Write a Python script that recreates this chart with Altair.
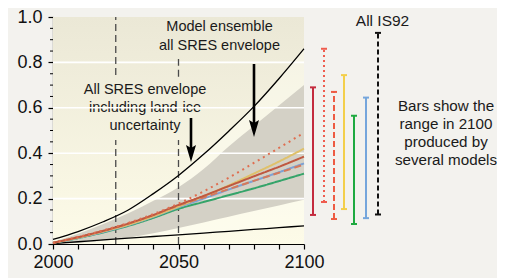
import altair as alt
import pandas as pd

# ---------------- data ----------------
years = [2000, 2010, 2020, 2030, 2040, 2050, 2060, 2070, 2080, 2090, 2100]

# outer black curves (All SRES envelope incl. land-ice uncertainty)
outer_high = [0.020, 0.055, 0.098, 0.150, 0.222, 0.302, 0.395, 0.497, 0.605, 0.728, 0.860]
outer_low = [0.002, 0.010, 0.018, 0.026, 0.033, 0.040, 0.048, 0.056, 0.064, 0.072, 0.080]

# grey model-ensemble envelope
env_low = [0.000, 0.005, 0.014, 0.028, 0.047, 0.070, 0.095, 0.120, 0.145, 0.170, 0.195]
env_high = [0.010, 0.045, 0.088, 0.135, 0.190, 0.250, 0.330, 0.430, 0.520, 0.610, 0.700]

# scenario averages
a1b = [0.005, 0.030, 0.058, 0.090, 0.128, 0.172, 0.212, 0.255, 0.298, 0.340, 0.385]
a1fi = [0.005, 0.031, 0.060, 0.093, 0.132, 0.178, 0.232, 0.292, 0.357, 0.423, 0.490]
a1t = [0.005, 0.030, 0.058, 0.090, 0.128, 0.170, 0.205, 0.242, 0.278, 0.314, 0.350]
a2 = [0.005, 0.028, 0.055, 0.085, 0.122, 0.165, 0.210, 0.258, 0.310, 0.363, 0.420]
b1 = [0.005, 0.026, 0.051, 0.080, 0.115, 0.155, 0.185, 0.215, 0.245, 0.277, 0.310]
b2 = [0.005, 0.027, 0.053, 0.083, 0.120, 0.162, 0.200, 0.240, 0.278, 0.316, 0.355]

# ranges in 2100 (bars at right)
bar_names = ["A1B", "A1FI", "A1T", "A2", "B1", "B2", "IS92"]
bar_low = [0.128, 0.185, 0.110, 0.154, 0.088, 0.114, 0.130]
bar_high = [0.690, 0.860, 0.670, 0.744, 0.565, 0.645, 0.930]

y_ticks = [0.0, 0.2, 0.4, 0.6, 0.8, 1.0]
x_ticks = list(range(2000, 2101, 10))
grid_values = [0.2, 0.4, 0.6, 0.8]
minor_y = [0.05, 0.10, 0.15, 0.25, 0.30, 0.35, 0.45, 0.50, 0.55, 0.65, 0.70, 0.75, 0.85, 0.90, 0.95]

# ---------------- styling ----------------
W, H = 251, 227
FONT = "Liberation Sans"

xscale = alt.Scale(domain=[2000, 2100], nice=False, zero=False)
yscale = alt.Scale(domain=[0, 1.0], nice=False)
xaxis = alt.Axis(values=x_ticks, labelExpr="datum.value % 50 == 0 ? datum.value : ''",
                 grid=False, tickSize=5, labelPadding=4, labelFlush=False, title=None)
yaxis = alt.Axis(values=y_ticks, format=".1f", grid=False, tickSize=5, labelPadding=6,
                 labelFlush=False, title=None)


def X(field):
    return alt.X(field, type="quantitative", scale=xscale, axis=xaxis, title=None)


def Y(field):
    return alt.Y(field, type="quantitative", scale=yscale, axis=yaxis, title=None)


one = pd.DataFrame({"a": [0]})
layers = []

# background gradient
layers.append(
    alt.Chart(one).mark_rect(
        color=alt.Gradient(gradient="linear",
                           stops=[alt.GradientStop(color="#ebe8d6", offset=0),
                                  alt.GradientStop(color="#fdfbe8", offset=1)],
                           x1=0, x2=0, y1=0, y2=1)
    ).encode(x=alt.value(0), x2=alt.value(W), y=alt.value(0), y2=alt.value(H))
)

curves = pd.DataFrame({"year": years, "hi": outer_high, "lo": outer_low,
                       "elo": env_low, "ehi": env_high})

layers.append(
    alt.Chart(curves).mark_area(interpolate="monotone", color="#fffef4", opacity=0.45)
    .encode(x=X("year"), y=Y("lo"), y2=alt.Y2("hi"))
)
layers.append(
    alt.Chart(curves).mark_area(interpolate="monotone", color="#d4d1c6")
    .encode(x=X("year"), y=Y("elo"), y2=alt.Y2("ehi"))
)

# left annotation text
left_lines = ["All SRES envelope", "including land-ice", "uncertainty"]
for i, t in enumerate(left_lines):
    layers.append(
        alt.Chart(one).mark_text(text=t, font=FONT, fontSize=14.5, color="#1a1a1a",
                                 align="center", baseline="middle")
        .encode(x=alt.value(92), y=alt.value(73 + 18 * i))
    )

# white gridlines
layers.append(
    alt.Chart(pd.DataFrame({"g": grid_values})).mark_rule(color="white", strokeWidth=1.6)
    .encode(y=Y("g"), x=alt.value(0), x2=alt.value(W))
)

# dashed vertical markers
vseg = pd.DataFrame({"year": [2025, 2025, 2050, 2050],
                     "y0": [0.745, 0.0, 0.737, 0.0],
                     "y1": [1.0, 0.458, 0.815, 0.458]})
layers.append(
    alt.Chart(vseg).mark_rule(color="#4a4a4a", strokeWidth=1.3, strokeDash=[7, 4])
    .encode(x=X("year"), y=Y("y0"), y2=alt.Y2("y1"))
)

# outer black curves
for col in ["hi", "lo"]:
    layers.append(
        alt.Chart(curves).mark_line(interpolate="monotone", color="#000", strokeWidth=1.3)
        .encode(x=X("year"), y=Y(col))
    )

# scenario lines
line_specs = [
    (b1, "#35a46a", [1, 0]),
    (b2, "#7ea2d4", [1, 0]),
    (a2, "#dfc16a", [1, 0]),
    (a1t, "#d6795a", [7, 4]),
    (a1b, "#bf5840", [1, 0]),
    (a1fi, "#df6e50", [2, 4]),
]
for vals, col, dash in line_specs:
    layers.append(
        alt.Chart(pd.DataFrame({"year": years, "v": vals}))
        .mark_line(interpolate="monotone", color=col, strokeWidth=2, strokeDash=dash)
        .encode(x=X("year"), y=Y("v"))
    )

# minor y ticks
layers.append(
    alt.Chart(pd.DataFrame({"m": minor_y})).mark_rule(color="#000", strokeWidth=1)
    .encode(y=Y("m"), x=alt.value(-3), x2=alt.value(0))
)

# arrows
arrow_path = "M0,1.7L-1,-1.7L0,-1.1L1,-1.7Z"
for ax, ytop, ytip in [(201, 47, 120), (138, 101, 145)]:
    layers.append(
        alt.Chart(one).mark_rule(color="#000", strokeWidth=2.6)
        .encode(x=alt.value(ax), y=alt.value(ytop), y2=alt.value(ytip - 10))
    )
    layers.append(
        alt.Chart(one).mark_point(shape=arrow_path, filled=True, color="#000", size=100, opacity=1)
        .encode(x=alt.value(ax), y=alt.value(ytip - 8.5))
    )

# model ensemble text
for i, t in enumerate(["Model ensemble", "all SRES envelope"]):
    layers.append(
        alt.Chart(one).mark_text(text=t, font=FONT, fontSize=14.5, color="#1a1a1a",
                                 align="center", baseline="middle")
        .encode(x=alt.value(166.5), y=alt.value(10 + 19 * i))
    )

# range bars
bar_px = [260, 271, 281, 291, 301, 313, 325]
bar_colors = ["#c42b3e", "#ef5c4e", "#ee5b42", "#f3cf4a", "#1eaa40", "#75a6dc", "#111111"]
bar_dash = [[1, 0], [2, 3], [6, 3], [1, 0], [1, 0], [1, 0], [5, 3]]
for i in range(len(bar_names)):
    d = pd.DataFrame({"lo": [bar_low[i]], "hi": [bar_high[i]]})
    layers.append(
        alt.Chart(d).mark_rule(color=bar_colors[i], strokeWidth=2, strokeDash=bar_dash[i])
        .encode(x=alt.value(bar_px[i]), y=Y("lo"), y2=alt.Y2("hi"))
    )
    for col in ["lo", "hi"]:
        layers.append(
            alt.Chart(d).mark_rule(color=bar_colors[i], strokeWidth=2)
            .encode(x=alt.value(bar_px[i] - 3), x2=alt.value(bar_px[i] + 3), y=Y(col))
        )

# right texts
layers.append(
    alt.Chart(one).mark_text(text="All IS92", font=FONT, fontSize=15.5, color="#1a1a1a",
                             align="center", baseline="middle")
    .encode(x=alt.value(329.5), y=alt.value(4))
)
for i, t in enumerate(["Bars show the", "range in 2100", "produced by", "several models"]):
    layers.append(
        alt.Chart(one).mark_text(text=t, font=FONT, fontSize=15.2, color="#1a1a1a",
                                 align="center", baseline="middle")
        .encode(x=alt.value(393), y=alt.value(89 + 18 * i))
    )

chart = alt.layer(*layers).properties(
    width=W, height=H,
    background="#f3f2ee",
    padding={"left": 45, "top": 9, "right": 193, "bottom": 34},
    autosize=alt.AutoSizeParams(type="none"),
).configure_view(stroke=None).configure_axis(
    domainColor="#000", tickColor="#000", labelColor="#111", labelFont=FONT,
    labelFontSize=18, domainWidth=1.2, tickWidth=1.2,
)

chart.save("out.html", embed_options={"renderer": "svg", "actions": False})
